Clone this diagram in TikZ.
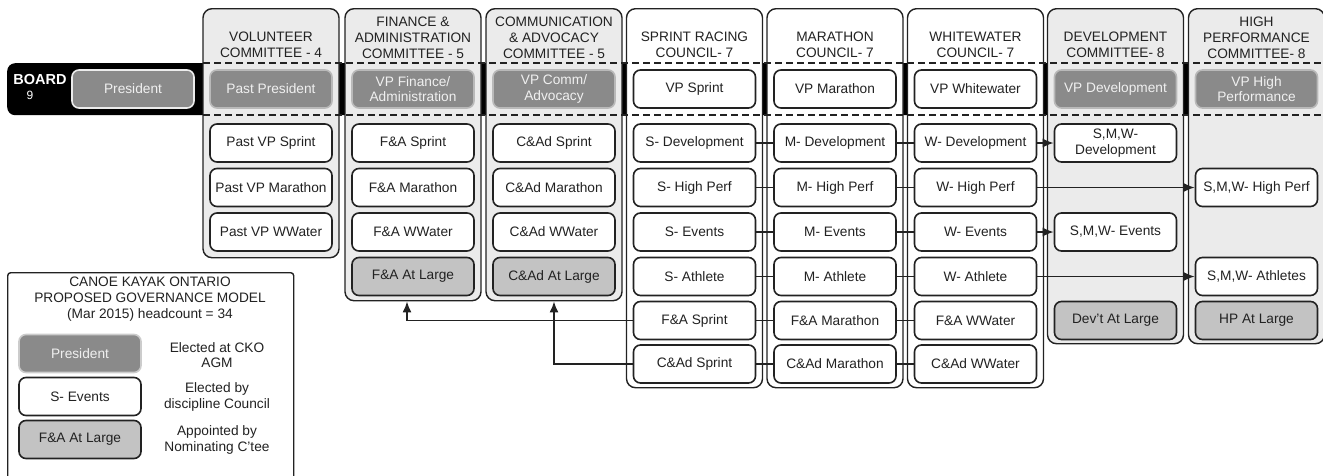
\documentclass[tikz,border=0pt]{standalone}
\usepackage{fontspec}
\setmainfont{Liberation Sans}
\usetikzlibrary{arrows.meta}
\definecolor{vpgray}{HTML}{8A8A8A}
\definecolor{alg}{HTML}{C3C3C3}
\definecolor{pg}{HTML}{EBEBEB}
\definecolor{bd}{HTML}{222222}
\begin{document}
\begin{tikzpicture}[x=1pt,y=-1pt,
  every node/.style={font=\fontsize{13.7}{15.8}\selectfont, text=bd},
  panel/.style={draw=bd, line width=1.4pt, rounded corners=9pt, minimum width=136pt, anchor=north, inner sep=0pt},
  gpanel/.style={panel, fill=pg},
  wpanel/.style={panel, fill=white},
  box/.style={draw=bd, line width=1.6pt, rounded corners=7pt, minimum width=122pt, minimum height=38pt, inner sep=0pt, align=center, fill=white},
  vp/.style={box, fill=vpgray, draw=gray!55, text=white!94!black},
  al/.style={box, fill=alg},
  hdr/.style={align=center, inner sep=0pt},
  link/.style={draw=bd, line width=1.6pt},
  arr/.style={link, -{Latex[length=11pt,width=9pt]}},
]
\useasboundingbox (0,0) rectangle (1323,475);
\clip (0,0) rectangle (1323,475);

% board band
\node[fill=black, rounded corners=8pt, minimum width=1190pt, minimum height=52pt, anchor=north west, inner sep=0pt] (board) at (7,63) {};
\node[font=\fontsize{14.5}{15}\selectfont\bfseries, text=white, inner sep=0pt] (boardt) at (40,79.5) {BOARD};
\node[font=\fontsize{12}{13}\selectfont, text=white, inner sep=0pt] (boardn) at (30,95) {9};
\node[vp, draw=white!85!gray] (pres) at (133,89) {President};

% panels
\node[gpanel, minimum height=249pt] (pvol) at (271,8) {};
\node[gpanel, minimum height=292pt] (pfin) at (413,8) {};
\node[gpanel, minimum height=292pt] (pcom) at (554,8) {};
\node[wpanel, minimum height=379pt] (pspr) at (694.5,8) {};
\node[wpanel, minimum height=379pt] (pmar) at (835,8) {};
\node[wpanel, minimum height=379pt] (pww) at (975.5,8) {};
\node[gpanel, minimum height=335pt] (pdev) at (1115.5,8) {};
\node[gpanel, minimum height=335pt] (php) at (1256.5,8) {};

% dashed band edges
\draw[bd, line width=1.2pt, dash pattern=on 7pt off 4pt] (203,63) -- (1323,63);
\draw[bd, line width=1.2pt, dash pattern=on 7pt off 4pt] (203,115) -- (1323,115);

% headers
\node[hdr] (hvol) at (271,45) {VOLUNTEER\\COMMITTEE - 4};
\node[hdr] (hfin) at (413,37.5) {FINANCE \&\\ADMINISTRATION\\COMMITTEE - 5};
\node[hdr] (hcom) at (554,37.5) {COMMUNICATION\\\& ADVOCACY\\COMMITTEE - 5};
\node[hdr] (hspr) at (694.5,45) {SPRINT RACING\\COUNCIL- 7};
\node[hdr] (hmar) at (835,45) {MARATHON\\COUNCIL- 7};
\node[hdr] (hww) at (975.5,45) {WHITEWATER\\COUNCIL- 7};
\node[hdr] (hdev) at (1115.5,45) {DEVELOPMENT\\COMMITTEE- 8};
\node[hdr] (hhp) at (1256.5,37.5) {HIGH\\PERFORMANCE\\COMMITTEE- 8};

% VP row
\node[vp] (vpast) at (271,89) {Past President};
\node[vp] (vfin) at (413,89) {VP Finance/\\Administration};
\node[vp] (vcom) at (554,89) {VP Comm/\\Advocacy};
\node[box] (vspr) at (694.5,89) {VP Sprint};
\node[box] (vmar) at (835,89) {VP Marathon};
\node[box] (vww) at (975.5,89) {VP Whitewater};
\node[vp] (vdev) at (1115.5,89) {VP Development};
\node[vp] (vhp) at (1256.5,89) {VP High\\Performance};

% volunteer
\node[box] (pvs) at (271,143) {Past VP Sprint};
\node[box] (pvm) at (271,187.5) {Past VP Marathon};
\node[box] (pvw) at (271,232) {Past VP WWater};
% finance
\node[box] (fs) at (413,143) {F\&A Sprint};
\node[box] (fm) at (413,187.5) {F\&A Marathon};
\node[box] (fw) at (413,232) {F\&A WWater};
\node[al] (fal) at (413,276.5) {F\&A At Large};
% comm
\node[box] (cs) at (554,143) {C\&Ad Sprint};
\node[box] (cm) at (554,187.5) {C\&Ad Marathon};
\node[box] (cw) at (554,232) {C\&Ad WWater};
\node[al] (cal) at (554,276.5) {C\&Ad At Large};
% sprint
\node[box] (sdev) at (694.5,143) {S- Development};
\node[box] (shp) at (694.5,187.5) {S- High Perf};
\node[box] (sev) at (694.5,232) {S- Events};
\node[box] (sath) at (694.5,276.5) {S- Athlete};
\node[box] (sfa) at (694.5,320.5) {F\&A Sprint};
\node[box] (scad) at (694.5,364) {C\&Ad Sprint};
% marathon
\node[box] (mdev) at (835,143) {M- Development};
\node[box] (mhp) at (835,187.5) {M- High Perf};
\node[box] (mev) at (835,232) {M- Events};
\node[box] (math) at (835,276.5) {M- Athlete};
\node[box] (mfa) at (835,320.5) {F\&A Marathon};
\node[box] (mcad) at (835,364) {C\&Ad Marathon};
% whitewater
\node[box] (wdev) at (975.5,143) {W- Development};
\node[box] (whp) at (975.5,187.5) {W- High Perf};
\node[box] (wev) at (975.5,232) {W- Events};
\node[box] (wath) at (975.5,276.5) {W- Athlete};
\node[box] (wfa) at (975.5,320.5) {F\&A WWater};
\node[box] (wcad) at (975.5,364) {C\&Ad WWater};
% development
\node[box] (xdev) at (1115.5,143) {S,M,W-\\Development};
\node[box] (xev) at (1115.5,232) {S,M,W- Events};
\node[al] (xal) at (1115.5,320.5) {Dev’t At Large};
% high performance
\node[box] (xhp) at (1256.5,187.5) {S,M,W- High Perf};
\node[box] (xath) at (1256.5,276.5) {S,M,W- Athletes};
\node[al] (hal) at (1256.5,320.5) {HP At Large};

% links between councils
\draw[link] (sdev) -- (mdev) -- (wdev);
\draw[link] (shp) -- (mhp) -- (whp);
\draw[link] (sev) -- (mev) -- (wev);
\draw[link] (sath) -- (math) -- (wath);
\draw[link] (sfa) -- (mfa) -- (wfa);
\draw[link] (scad) -- (mcad) -- (wcad);

% arrows to committees
\draw[arr] (wdev) -- (xdev);
\draw[arr] (whp) -- (xhp);
\draw[arr] (wev) -- (xev);
\draw[arr] (wath) -- (xath);
\draw[arr] (sfa.west) -| ([xshift=-6pt]pfin.south);
\draw[arr] (scad.west) -| (pcom.south);

% legend
\node[draw=bd, line width=1.4pt, rounded corners=3pt, minimum width=286pt, minimum height=215pt, anchor=north west, fill=white, inner sep=0pt] (legend) at (7,272) {};
\node[hdr] (ltitle) at (150,299) {CANOE KAYAK ONTARIO\\PROPOSED GOVERNANCE MODEL\\(Mar 2015) headcount = 34};
\node[vp, draw=gray!40] (lpres) at (80,353.5) {President};
\node[box] (lev) at (80,396.5) {S- Events};
\node[al] (lal) at (80,439.5) {F\&A At Large};
\node[hdr] (d1) at (217,355) {Elected at CKO\\AGM};
\node[hdr] (d2) at (217,397) {Elected by\\discipline Council};
\node[hdr] (d3) at (217,440) {Appointed by\\Nominating C’tee};
\end{tikzpicture}
\end{document}
